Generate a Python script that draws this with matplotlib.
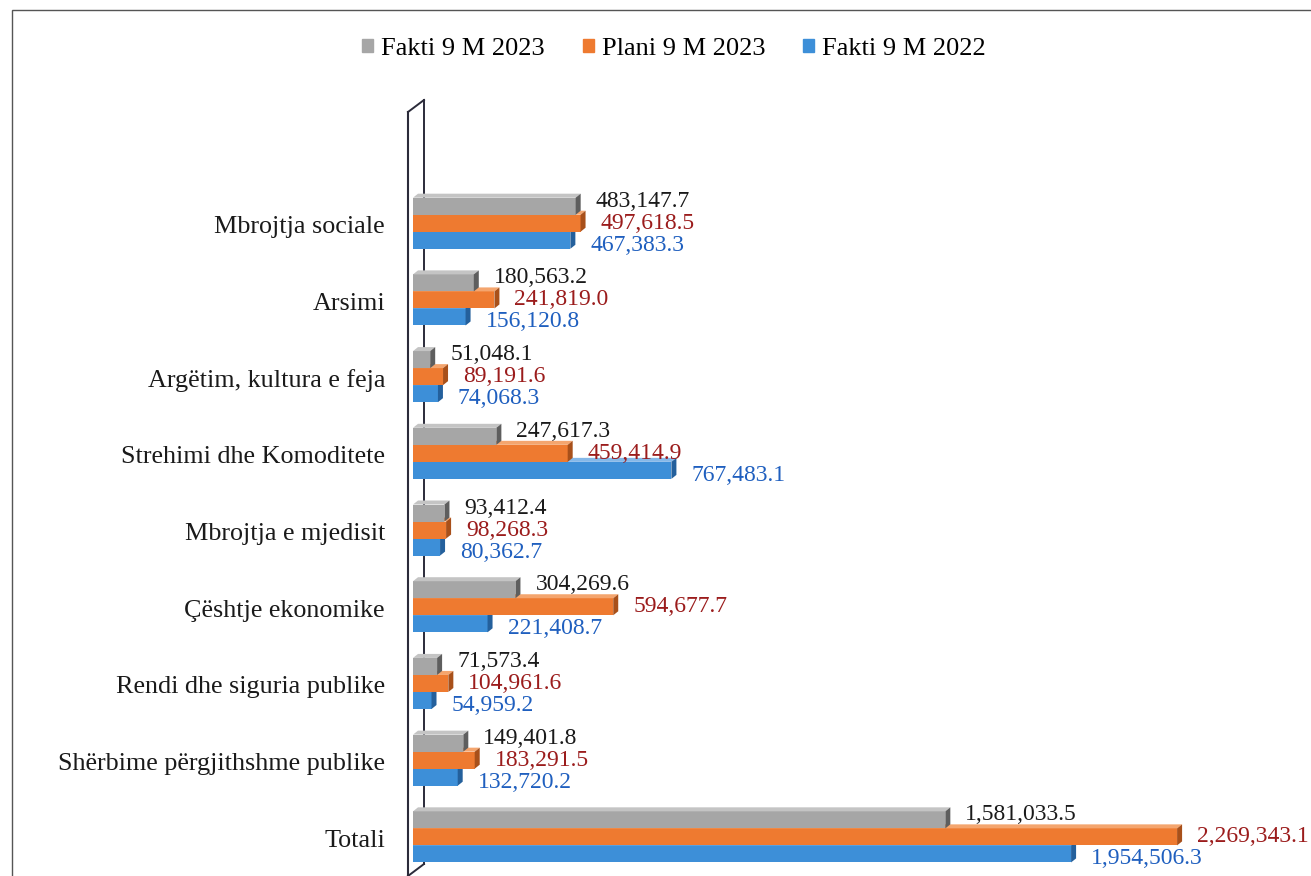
import numpy as np
import matplotlib
matplotlib.use('Agg')
import matplotlib.pyplot as plt
from matplotlib.patches import Polygon, Patch, Rectangle
from matplotlib.lines import Line2D
from matplotlib.transforms import ScaledTranslation

plt.rcParams['font.family'] = ['Liberation Serif', 'DejaVu Serif']

categories = ['Mbrojtja sociale', 'Arsimi', 'Argëtim, kultura e feja',
              'Strehimi dhe Komoditete', 'Mbrojtja e mjedisit',
              'Çështje ekonomike', 'Rendi dhe siguria publike',
              'Shërbime përgjithshme publike', 'Totali']
fakti_2023 = [483147.7, 180563.2, 51048.1, 247617.3, 93412.4, 304269.6, 71573.4, 149401.8, 1581033.5]
plani_2023 = [497618.5, 241819.0, 89191.6, 459414.9, 98268.3, 594677.7, 104961.6, 183291.5, 2269343.1]
fakti_2022 = [467383.3, 156120.8, 74068.3, 767483.1, 80362.7, 221408.7, 54959.2, 132720.2, 1954506.3]
series_names = ['Fakti 9 M 2023', 'Plani 9 M 2023', 'Fakti 9 M 2022']

W, H = 1311, 876
fig = plt.figure(figsize=(W / 100, H / 100), dpi=100)
fig.set_facecolor('w')

# axes placed in pixel terms (left = wall front edge)
ax_l, ax_r, ax_t, ax_b = 408, 1300, 112, 876
ax = fig.add_axes([ax_l / W, 1 - ax_b / H, (ax_r - ax_l) / W, (ax_b - ax_t) / H])
ax.set_xlim(-14850, 2634400)
ax.set_ylim(-0.51, 9.45)
ax.axis('off')

n = len(categories)
ypos = np.arange(n)[::-1]
h = 0.222

# px per data unit
px_x = (ax_r - ax_l) / (2634400 + 14850)
px_y = (ax_b - ax_t) / (9.45 + 0.51)
dx, dy = 5 / px_x, 4 / px_y

styles = [
    # front, top, side, label colour, offset, label dy (px)
    ('#a6a6a6', '#c4c4c4', '#5e5e5e', '#1a1a1a', h, 22),
    ('#ee7a30', '#f4a56e', '#a8501a', '#9b1c1c', 0.0, 0),
    ('#3d8fd8', '#85b8e8', '#24609c', '#1f5fbf', -h, -22),
]
data = [fakti_2023, plani_2023, fakti_2022]

# draw bottom-up so upper bars cover the top faces below them
for k in [2, 1, 0]:
    front, top, side, lc, off, ldy = styles[k]
    vals = data[k]
    z = 3 + (2 - k)
    for y, v in zip(ypos, vals):
        yc = y + off
        ax.barh(yc, v, height=h, left=0, color=front, zorder=z)
        y0, y1 = yc - h / 2, yc + h / 2
        ax.add_patch(Polygon([(0, y1), (v, y1), (v + dx, y1 + dy), (dx, y1 + dy)],
                             closed=True, facecolor=top, edgecolor='none', zorder=z))
        ax.add_patch(Polygon([(v, y0), (v, y1), (v + dx, y1 + dy), (v + dx, y0 + dy)],
                             closed=True, facecolor=side, edgecolor='none', zorder=z))
for k in range(3):
    front, top, side, lc, off, ldy = styles[k]
    for y, v in zip(ypos, data[k]):
        ax.annotate(f'{v:,.1f}', xy=(v, y), xytext=(20, ldy), textcoords='offset pixels',
                    ha='left', va='center', fontsize=17, color=lc, zorder=10,
                    annotation_clip=False)

# category labels
for y, c in zip(ypos, categories):
    ax.annotate(c, xy=(0, y), xycoords=('axes fraction', 'data'), xytext=(-23, -4),
                textcoords='offset pixels', ha='right', va='center',
                fontsize=18.8, color='#1a1a1a', annotation_clip=False)

# 3D wall at the left
wall_c = '#2b2b3a'
back = ax.transAxes + ScaledTranslation(16 / 100, 12 / 100, fig.dpi_scale_trans)
ax.add_line(Line2D([0, 0], [0, 1], transform=ax.transAxes, color=wall_c, lw=1.5, clip_on=False, zorder=2))
ax.add_line(Line2D([0, 0], [0, 1], transform=back, color=wall_c, lw=1.4, clip_on=False, zorder=1))
for yy in [0, 1]:
    x0, y0 = ax.transAxes.transform((0, yy))
    ax.add_line(Line2D([x0, x0 + 16], [y0, y0 + 12], transform=None, color=wall_c, lw=1.4,
                       clip_on=False, zorder=1))

# legend
handles = [Patch(color=s[0]) for s in styles]
fig.legend(handles, series_names, loc='center', bbox_to_anchor=(0.514, 1 - 49 / H), ncol=3,
           frameon=False, fontsize=19, handlelength=0.42, handleheight=0.42,
           handletextpad=0.3, columnspacing=1.45)

# page frame
fig.add_artist(Rectangle((12 / W, -0.1), 1.2, 1.1 - 10 / H, transform=fig.transFigure,
                         fill=False, edgecolor='#555555', lw=1.0))

plt.savefig('out.png', dpi=100)
